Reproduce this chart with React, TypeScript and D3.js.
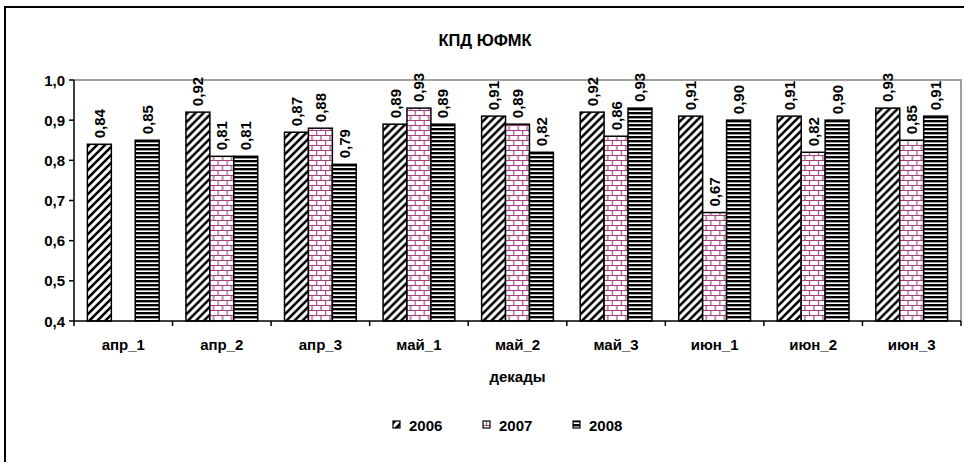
import * as d3 from "d3";

const categories = ["апр_1", "апр_2", "апр_3", "май_1", "май_2", "май_3", "июн_1", "июн_2", "июн_3"];
const series = ["2006", "2007", "2008"];
const values2006 = [0.84, 0.92, 0.87, 0.89, 0.91, 0.92, 0.91, 0.91, 0.93];
const values2007 = [null, 0.81, 0.88, 0.93, 0.89, 0.86, 0.67, 0.82, 0.85];
const values2008 = [0.85, 0.81, 0.79, 0.89, 0.82, 0.93, 0.90, 0.90, 0.91];
const yTicks = [0.4, 0.5, 0.6, 0.7, 0.8, 0.9, 1.0];

const seriesValues: (number | null)[][] = [values2006, values2007, values2008];
const patterns = ["pDiag", "pBrick", "pStripe"];

const W = 964;
const H = 462;
const margin = { left: 74, right: 3, top: 80, bottom: 141 };
const fmt = (v: number, d: number) => v.toFixed(d).replace(".", ",");
const font = "'Liberation Sans', Arial, sans-serif";
const fs = 15;

export default function App() {
  const x0 = d3
    .scaleBand<string>()
    .domain(categories)
    .range([margin.left, W - margin.right]);
  const bw = x0.bandwidth();
  const x1 = d3
    .scaleBand<string>()
    .domain(series)
    .range([0, bw])
    .paddingOuter(0.56);
  const y = d3
    .scaleLinear()
    .domain([0.4, 1.0])
    .range([H - margin.bottom, margin.top]);

  const xl = margin.left;
  const xr = W - margin.right;
  const yb = y(0.4);
  const yt = y(1.0);

  return (
    <svg
      width={W}
      height={H}
      style={{ position: "absolute", left: 0, top: 0, background: "#fff" }}
      fontFamily={font}
      fontWeight="bold"
    >
      <defs>
        <pattern id="pDiag" patternUnits="userSpaceOnUse" width={8} height={8}>
          <rect width={8} height={8} fill="#fff" />
          <path d="M-2,2 L2,-2 M0,8 L8,0 M6,10 L10,6" stroke="#000" strokeWidth={2.6} />
        </pattern>
        <pattern id="pBrick" patternUnits="userSpaceOnUse" width={9} height={10}>
          <rect width={9} height={10} fill="#fff" />
          <path
            d="M0,0.5 H9 M0,5.5 H9 M0.5,0.5 V5.5 M5,5.5 V10.5"
            stroke="#a33f7c"
            strokeWidth={1.2}
            fill="none"
          />
        </pattern>
        <pattern id="pStripe" patternUnits="userSpaceOnUse" width={4} height={4}>
          <rect width={4} height={4} fill="#fff" />
          <rect width={4} height={2.4} fill="#000" />
        </pattern>
      </defs>

      {/* outer chart border */}
      <rect x={5} y={7} width={W + 10} height={H + 10} fill="#fff" stroke="#000" strokeWidth={2} />

      <text x={485} y={46} textAnchor="middle" fontSize={16.5}>
        КПД ЮФМК
      </text>

      {/* plot area border */}
      <path d={`M${xl},${yt} H${xr} V${yb}`} fill="none" stroke="#808080" strokeWidth={1.5} />

      {/* bars */}
      {categories.map((c, i) => (
        <g key={c} transform={`translate(${x0(c)},0)`}>
          {series.map((s, j) => {
            const v = seriesValues[j][i];
            if (v === null) return null;
            const bx = x1(s)!;
            const bwid = x1.bandwidth();
            return (
              <g key={s}>
                <rect
                  x={bx}
                  y={y(v)}
                  width={bwid}
                  height={yb - y(v)}
                  fill={`url(#${patterns[j]})`}
                  stroke="#000"
                  strokeWidth={1.5}
                />
                <text
                  transform={`translate(${bx + bwid / 2},${y(v) - 6}) rotate(-90)`}
                  dominantBaseline="central"
                  fontSize={fs}
                >
                  {fmt(v, 2)}
                </text>
              </g>
            );
          })}
        </g>
      ))}

      {/* y axis */}
      <line x1={xl} x2={xl} y1={yt} y2={yb} stroke="#000" strokeWidth={1.5} />
      {yTicks.map((t) => (
        <g key={t}>
          <line x1={xl - 5} x2={xl} y1={y(t)} y2={y(t)} stroke="#000" strokeWidth={1.5} />
          <text x={xl - 9} y={y(t)} textAnchor="end" dominantBaseline="central" fontSize={fs}>
            {fmt(t, 1)}
          </text>
        </g>
      ))}

      {/* x axis */}
      <line x1={xl} x2={xr} y1={yb} y2={yb} stroke="#000" strokeWidth={1.5} />
      {[...categories.map((c) => x0(c)!), xr].map((t, i) => (
        <line key={i} x1={t} x2={t} y1={yb} y2={yb + 5} stroke="#000" strokeWidth={1.5} />
      ))}
      {categories.map((c) => (
        <text key={c} x={x0(c)! + bw / 2} y={350} textAnchor="middle" fontSize={fs}>
          {c}
        </text>
      ))}
      <text x={(xl + xr) / 2} y={382} textAnchor="middle" fontSize={fs}>
        декады
      </text>

      {/* legend */}
      {series.map((s, j) => {
        const lx = 393 + j * 90;
        return (
          <g key={s}>
            <rect x={lx} y={421} width={7} height={7} fill={`url(#${patterns[j]})`} stroke="#000" strokeWidth={1.2} />
            <text x={lx + 16} y={431} fontSize={fs}>
              {s}
            </text>
          </g>
        );
      })}
    </svg>
  );
}
